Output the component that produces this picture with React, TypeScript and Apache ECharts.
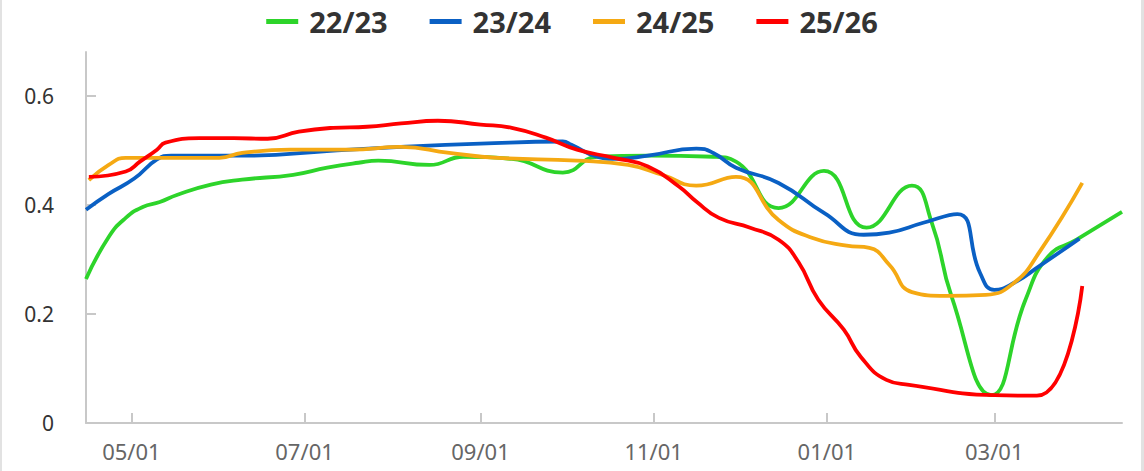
import React, { useEffect, useRef } from 'react';
import * as echarts from 'echarts';

const seasonNames = ['22/23', '23/24', '24/25', '25/26'];
const seasonColors = ['#2dd42a', '#0a60c4', '#f5a913', '#ff0000'];

const xRange = ['2025-04-15', '2026-04-15'];
const xTickDates = ['2025-05-01', '2025-07-01', '2025-09-01', '2025-11-01', '2026-01-01', '2026-03-01'];
const yTicks = [0, 0.2, 0.4, 0.6];

const dates2223 = [
  '2025-04-15', '2025-04-23', '2025-04-29', '2025-05-05', '2025-05-11', '2025-05-17', '2025-05-29',
  '2025-06-09', '2025-06-27', '2025-07-09', '2025-07-20', '2025-07-27', '2025-08-14', '2025-08-26',
  '2025-09-12', '2025-09-30', '2025-10-12', '2025-10-30', '2025-11-22', '2025-11-30', '2025-12-15',
  '2025-12-31', '2026-01-15', '2026-01-31', '2026-02-07', '2026-02-14', '2026-02-28', '2026-03-12',
  '2026-03-20', '2026-03-30', '2026-04-15',
];
const values2223 = [
  0.264, 0.341, 0.376, 0.396, 0.405, 0.418, 0.437,
  0.446, 0.455, 0.468, 0.477, 0.481, 0.473, 0.488,
  0.484, 0.459, 0.488, 0.49, 0.488, 0.479, 0.394,
  0.462, 0.358, 0.435, 0.367, 0.231, 0.051, 0.226,
  0.305, 0.336, 0.387,
];

const dates2324 = [
  '2025-04-15', '2025-04-23', '2025-05-02', '2025-05-10', '2025-05-15', '2025-06-12', '2025-07-10',
  '2025-08-04', '2025-09-01', '2025-09-30', '2025-10-03', '2025-10-12', '2025-10-18', '2025-10-30',
  '2025-11-16', '2025-11-22', '2025-11-30', '2025-12-15', '2025-12-31', '2026-01-14', '2026-01-23',
  '2026-02-04', '2026-02-16', '2026-02-24', '2026-03-01', '2026-03-08', '2026-03-17', '2026-03-31',
];
const values2324 = [
  0.391, 0.42, 0.448, 0.483, 0.49, 0.49, 0.499,
  0.506, 0.512, 0.516, 0.51, 0.488, 0.484, 0.49,
  0.503, 0.495, 0.468, 0.44, 0.385, 0.345, 0.349,
  0.367, 0.383, 0.275, 0.244, 0.257, 0.288, 0.338,
];

const dates2425 = [
  '2025-04-16', '2025-04-23', '2025-04-29', '2025-05-11', '2025-06-01', '2025-06-09', '2025-06-26',
  '2025-07-17', '2025-08-04', '2025-08-21', '2025-09-07', '2025-10-05', '2025-10-23', '2025-11-04',
  '2025-11-16', '2025-11-30', '2025-12-15', '2025-12-27', '2026-01-08', '2026-01-16', '2026-01-23',
  '2026-01-31', '2026-02-12', '2026-02-26', '2026-03-08', '2026-03-17', '2026-04-01',
];
const values2425 = [
  0.445, 0.473, 0.486, 0.486, 0.486, 0.495, 0.501,
  0.501, 0.506, 0.495, 0.486, 0.481, 0.473, 0.455,
  0.435, 0.451, 0.372, 0.339, 0.325, 0.321, 0.29,
  0.24, 0.233, 0.235, 0.257, 0.314, 0.44,
];

const dates2526 = [
  '2025-04-16', '2025-04-29', '2025-05-04', '2025-05-10', '2025-05-13', '2025-05-25', '2025-06-06',
  '2025-06-18', '2025-06-29', '2025-07-11', '2025-07-23', '2025-08-04', '2025-08-17', '2025-09-01',
  '2025-09-12', '2025-09-24', '2025-10-05', '2025-10-18', '2025-10-30', '2025-11-10', '2025-11-16',
  '2025-11-24', '2025-12-05', '2025-12-15', '2025-12-22', '2025-12-29', '2026-01-07', '2026-01-13',
  '2026-01-22', '2026-01-30', '2026-03-01', '2026-03-16', '2026-04-01',
];
const values2526 = [
  0.451, 0.461, 0.479, 0.501, 0.514, 0.522, 0.522,
  0.521, 0.534, 0.541, 0.543, 0.549, 0.554, 0.547,
  0.541, 0.523, 0.501, 0.486, 0.47, 0.433, 0.406,
  0.376, 0.358, 0.336, 0.295, 0.226, 0.171, 0.121,
  0.079, 0.07, 0.051, 0.05, 0.251,
];

const seasonDates = [dates2223, dates2324, dates2425, dates2526];
const seasonValues = [values2223, values2324, values2425, values2526];

function toTime(s: string): number {
  const [y, m, d] = s.split('-').map(Number);
  return new Date(y, m - 1, d).getTime();
}

function pad(n: number): string {
  return n < 10 ? '0' + n : String(n);
}

export default function App() {
  const ref = useRef<HTMLDivElement>(null);

  useEffect(() => {
    if (!ref.current) return;
    const chart = echarts.init(ref.current, null, { renderer: 'svg' });
    const font = '"Noto Sans", "Open Sans", sans-serif';
    const xTicks = xTickDates.map(toTime);
    chart.setOption({
      animation: false,
      backgroundColor: '#ffffff',
      textStyle: { fontFamily: font },
      graphic: [
        { type: 'rect', left: 0, top: 0, shape: { width: 2, height: 471 }, style: { fill: '#e2e2e2' }, silent: true },
        { type: 'rect', right: 0, top: 0, shape: { width: 3, height: 471 }, style: { fill: '#e2e2e2' }, silent: true },
      ],
      legend: {
        top: 2,
        left: 'center',
        icon: 'rect',
        itemWidth: 32,
        itemHeight: 5,
        itemGap: 42,
        data: seasonNames,
        textStyle: {
          fontFamily: font,
          fontSize: 29,
          fontWeight: 'bold',
          color: '#333333',
          padding: [0, 0, 0, 6],
        },
      },
      grid: { left: 86, right: 22, top: 52, bottom: 48 },
      xAxis: {
        type: 'value',
        min: toTime(xRange[0]),
        max: toTime(xRange[1]),
        axisLine: { show: true, lineStyle: { color: '#c8c8c8', width: 2 } },
        axisTick: {
          show: true,
          inside: true,
          length: 10,
          lineStyle: { color: '#c8c8c8', width: 2 },
          customValues: xTicks,
        },
        axisLabel: {
          fontFamily: font,
          fontSize: 22,
          color: '#666666',
          margin: 17,
          customValues: xTicks,
          formatter: (v: number) => {
            const d = new Date(v);
            return pad(d.getMonth() + 1) + '/' + pad(d.getDate());
          },
        },
        splitLine: { show: false },
      },
      yAxis: {
        type: 'value',
        min: 0,
        max: 0.68,
        interval: 0.2,
        axisLine: { show: true, lineStyle: { color: '#c8c8c8', width: 2 } },
        axisTick: {
          show: true,
          inside: true,
          length: 10,
          lineStyle: { color: '#c8c8c8', width: 2 },
          customValues: yTicks,
        },
        axisLabel: {
          fontFamily: font,
          fontSize: 21,
          color: '#333333',
          margin: 32,
          customValues: yTicks,
        },
        splitLine: { show: false },
      },
      series: seasonNames.map((name, i) => ({
        name,
        type: 'line',
        smooth: true,
        showSymbol: false,
        symbol: 'none',
        color: seasonColors[i],
        lineStyle: { width: 3.8, color: seasonColors[i] },
        data: seasonDates[i].map((d, j) => [toTime(d), seasonValues[i][j]]),
      })),
    });
    return () => chart.dispose();
  }, []);

  return (
    <div
      ref={ref}
      style={{ position: 'fixed', left: 0, top: 0, width: 1144, height: 471 }}
    />
  );
}
